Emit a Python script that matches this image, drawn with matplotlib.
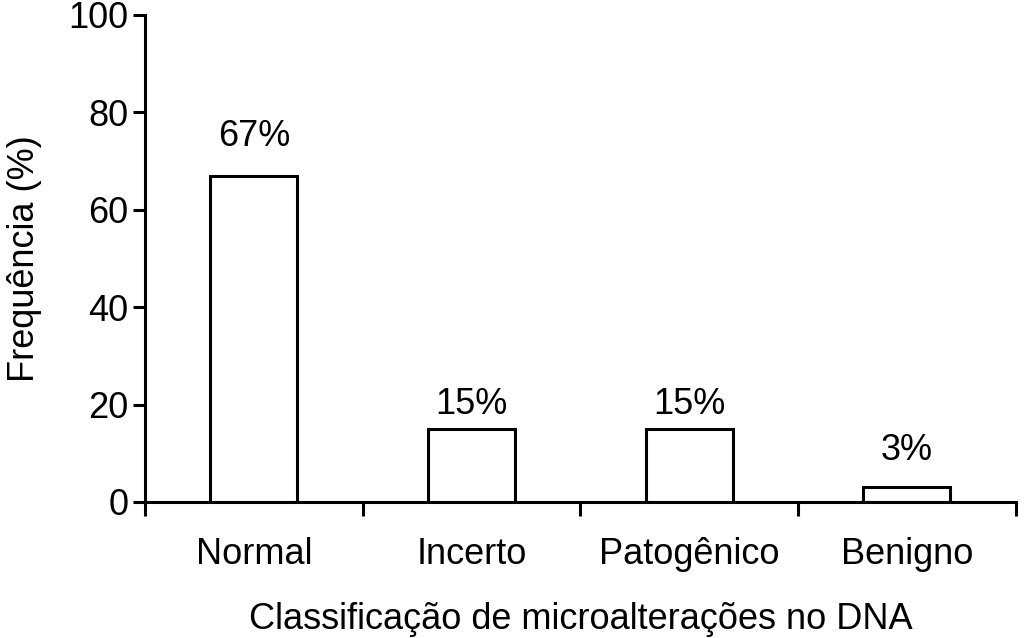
import matplotlib
matplotlib.use("Agg")
import matplotlib.pyplot as plt
import numpy as np

# data
categories = ["Normal", "Incerto", "Patogênico", "Benigno"]
freq = [67, 15, 15, 3]
labels = ["67%", "15%", "15%", "3%"]

# gap between bar top and its label (the original is not uniform)
label_gap = [4.4, 1.4, 1.4, 4.0]

plt.rcParams['font.family'] = ['Liberation Sans', 'DejaVu Sans']
FS = 26

fig = plt.figure(figsize=(10.24, 6.38), dpi=100)
ax = fig.add_axes([0.1416, 0.2132, 0.8504, 0.7633])

x = np.arange(len(categories))
ax.bar(x, freq, width=0.4, color="white", edgecolor="black", linewidth=2.2)

for xi, v, lab, g in zip(x, freq, labels, label_gap):
    ax.text(xi, v + g, lab, ha="center", va="bottom", fontsize=FS)

ax.set_xlim(-0.5, len(categories) - 0.5)
ax.set_ylim(0, 100)
ax.set_yticks([0, 20, 40, 60, 80, 100])

# category names sit in the middle, ticks mark the boundaries
ax.set_xticks(np.arange(-0.5, len(categories), 1.0))
ax.set_xticklabels([])
ax.set_xticks(x, minor=True)
ax.set_xticklabels(categories, minor=True, fontsize=FS)
ax.tick_params(axis="x", which="minor", length=0, pad=25)
ax.tick_params(axis="x", which="major", direction="out", length=10, width=2.2)
ax.tick_params(axis="y", direction="out", length=9, width=2.2, labelsize=FS, pad=3)

for s in ["top", "right"]:
    ax.spines[s].set_visible(False)
for s in ["left", "bottom"]:
    ax.spines[s].set_linewidth(2.2)

ax.set_ylabel("Frequência (%)", fontsize=FS, labelpad=19)
ax.set_xlabel("Classificação de microalterações no DNA", fontsize=FS, labelpad=22)

fig.savefig("out.png", dpi=100)
